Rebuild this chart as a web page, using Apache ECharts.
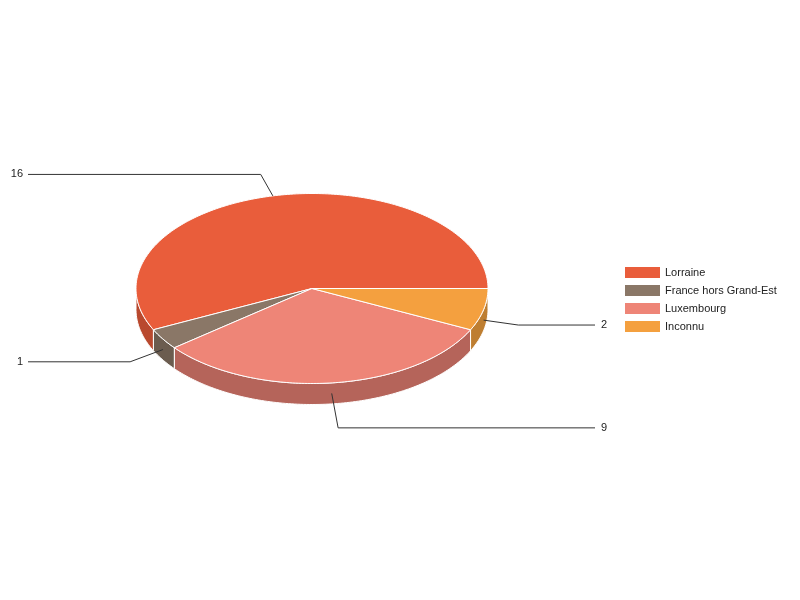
<!DOCTYPE html>
<html><head><meta charset="utf-8">
<script src="https://cdn.jsdelivr.net/npm/echarts@6/dist/echarts.min.js"></script>
<style>html,body{margin:0;padding:0;background:#fff}#c{width:800px;height:600px}</style>
</head><body><div id="c"></div>
<script>
const categories = ['Lorraine', 'France hors Grand-Est', 'Luxembourg', 'Inconnu'];
const values = [16, 1, 9, 2];
const topColors = ['#E95D3B', '#8A7767', '#EE8577', '#F4A03F'];
const sideColors = ['#B9492E', '#6B5C4F', '#B5645A', '#BE7E31'];

const CX = 312, CY = 288.5, RX = 176, RY = 95, DEPTH = 21;
const total = values.reduce((a, b) => a + b, 0);
const starts = [];
let acc = 0;
values.forEach(v => { starts.push(acc / total * 360); acc += v; });
function ang(i) { return [starts[i], starts[i] + values[i] / total * 360]; }
function pt(deg, dy) {
  const r = deg * Math.PI / 180;
  return [CX + RX * Math.cos(r), CY - RY * Math.sin(r) + (dy || 0)];
}

function renderSide(params, api) {
  const i = params.dataIndex;
  const [a0, a1] = ang(i);
  const s = Math.max(a0, 180), e = Math.min(a1, 360);
  if (e <= s) return { type: 'group', children: [] };
  const pts = [];
  for (let a = s; a < e; a += 1) pts.push(pt(a));
  pts.push(pt(e));
  for (let a = e; a > s; a -= 1) pts.push(pt(a, DEPTH));
  pts.push(pt(s, DEPTH));
  return { type: 'polygon', shape: { points: pts }, style: { fill: sideColors[i], stroke: '#fff', lineWidth: 1 } };
}

function renderTop(params, api) {
  const i = params.dataIndex;
  const [a0, a1] = ang(i);
  const pts = [[CX, CY]];
  for (let a = a0; a < a1; a += 1) pts.push(pt(a));
  pts.push(pt(a1));
  return { type: 'polygon', shape: { points: pts }, style: { fill: topColors[i], stroke: '#fff', lineWidth: 1 } };
}

function renderLabel(params, api) {
  const i = params.dataIndex;
  const [a0, a1] = ang(i);
  const m = (a0 + a1) / 2;
  const r = m * Math.PI / 180;
  const c = Math.cos(r), s = Math.sin(r);
  const anchor = pt(m, s < 0 ? DEPTH / 2 : 0);
  const lx = 35 + 25 * (1 - Math.abs(c));
  const ly = 22 + 13 * Math.pow(s, 4) * (s < 0 ? 1 : 0);
  const elbow = [anchor[0] + c * lx, anchor[1] - s * ly];
  const left = c < 0;
  const endX = left ? 28 : 595;
  return {
    type: 'group',
    children: [
      { type: 'polyline', shape: { points: [anchor, elbow, [endX, elbow[1]]] },
        style: { stroke: '#333', lineWidth: 1, fill: null } },
      { type: 'text', style: {
          x: left ? 23 : 601, y: elbow[1], text: String(api.value(0)),
          align: left ? 'right' : 'left', verticalAlign: 'middle',
          fill: '#222', font: '11px "Liberation Sans", Arial, sans-serif' } }
    ]
  };
}

const chart = echarts.init(document.getElementById('c'));
chart.setOption({
  animation: false,
  backgroundColor: '#fff',
  legend: {
    orient: 'vertical', left: 625, top: 267, padding: 0,
    itemWidth: 35, itemHeight: 11, itemGap: 7, icon: 'rect',
    data: categories,
    textStyle: { fontSize: 11, color: '#222', fontFamily: '"Liberation Sans", Arial, sans-serif' }
  },
  series: [
    { type: 'pie', radius: [0, 0], center: [CX, CY], silent: true, label: { show: false },
      labelLine: { show: false },
      data: categories.map((n, i) => ({ name: n, value: values[i], itemStyle: { color: topColors[i] } })) },
    { type: 'custom', coordinateSystem: 'none', z: 1, silent: true, renderItem: renderSide, data: values },
    { type: 'custom', coordinateSystem: 'none', z: 2, silent: true, renderItem: renderTop, data: values },
    { type: 'custom', coordinateSystem: 'none', z: 3, silent: true, renderItem: renderLabel, data: values }
  ]
});
</script>
</body></html>
